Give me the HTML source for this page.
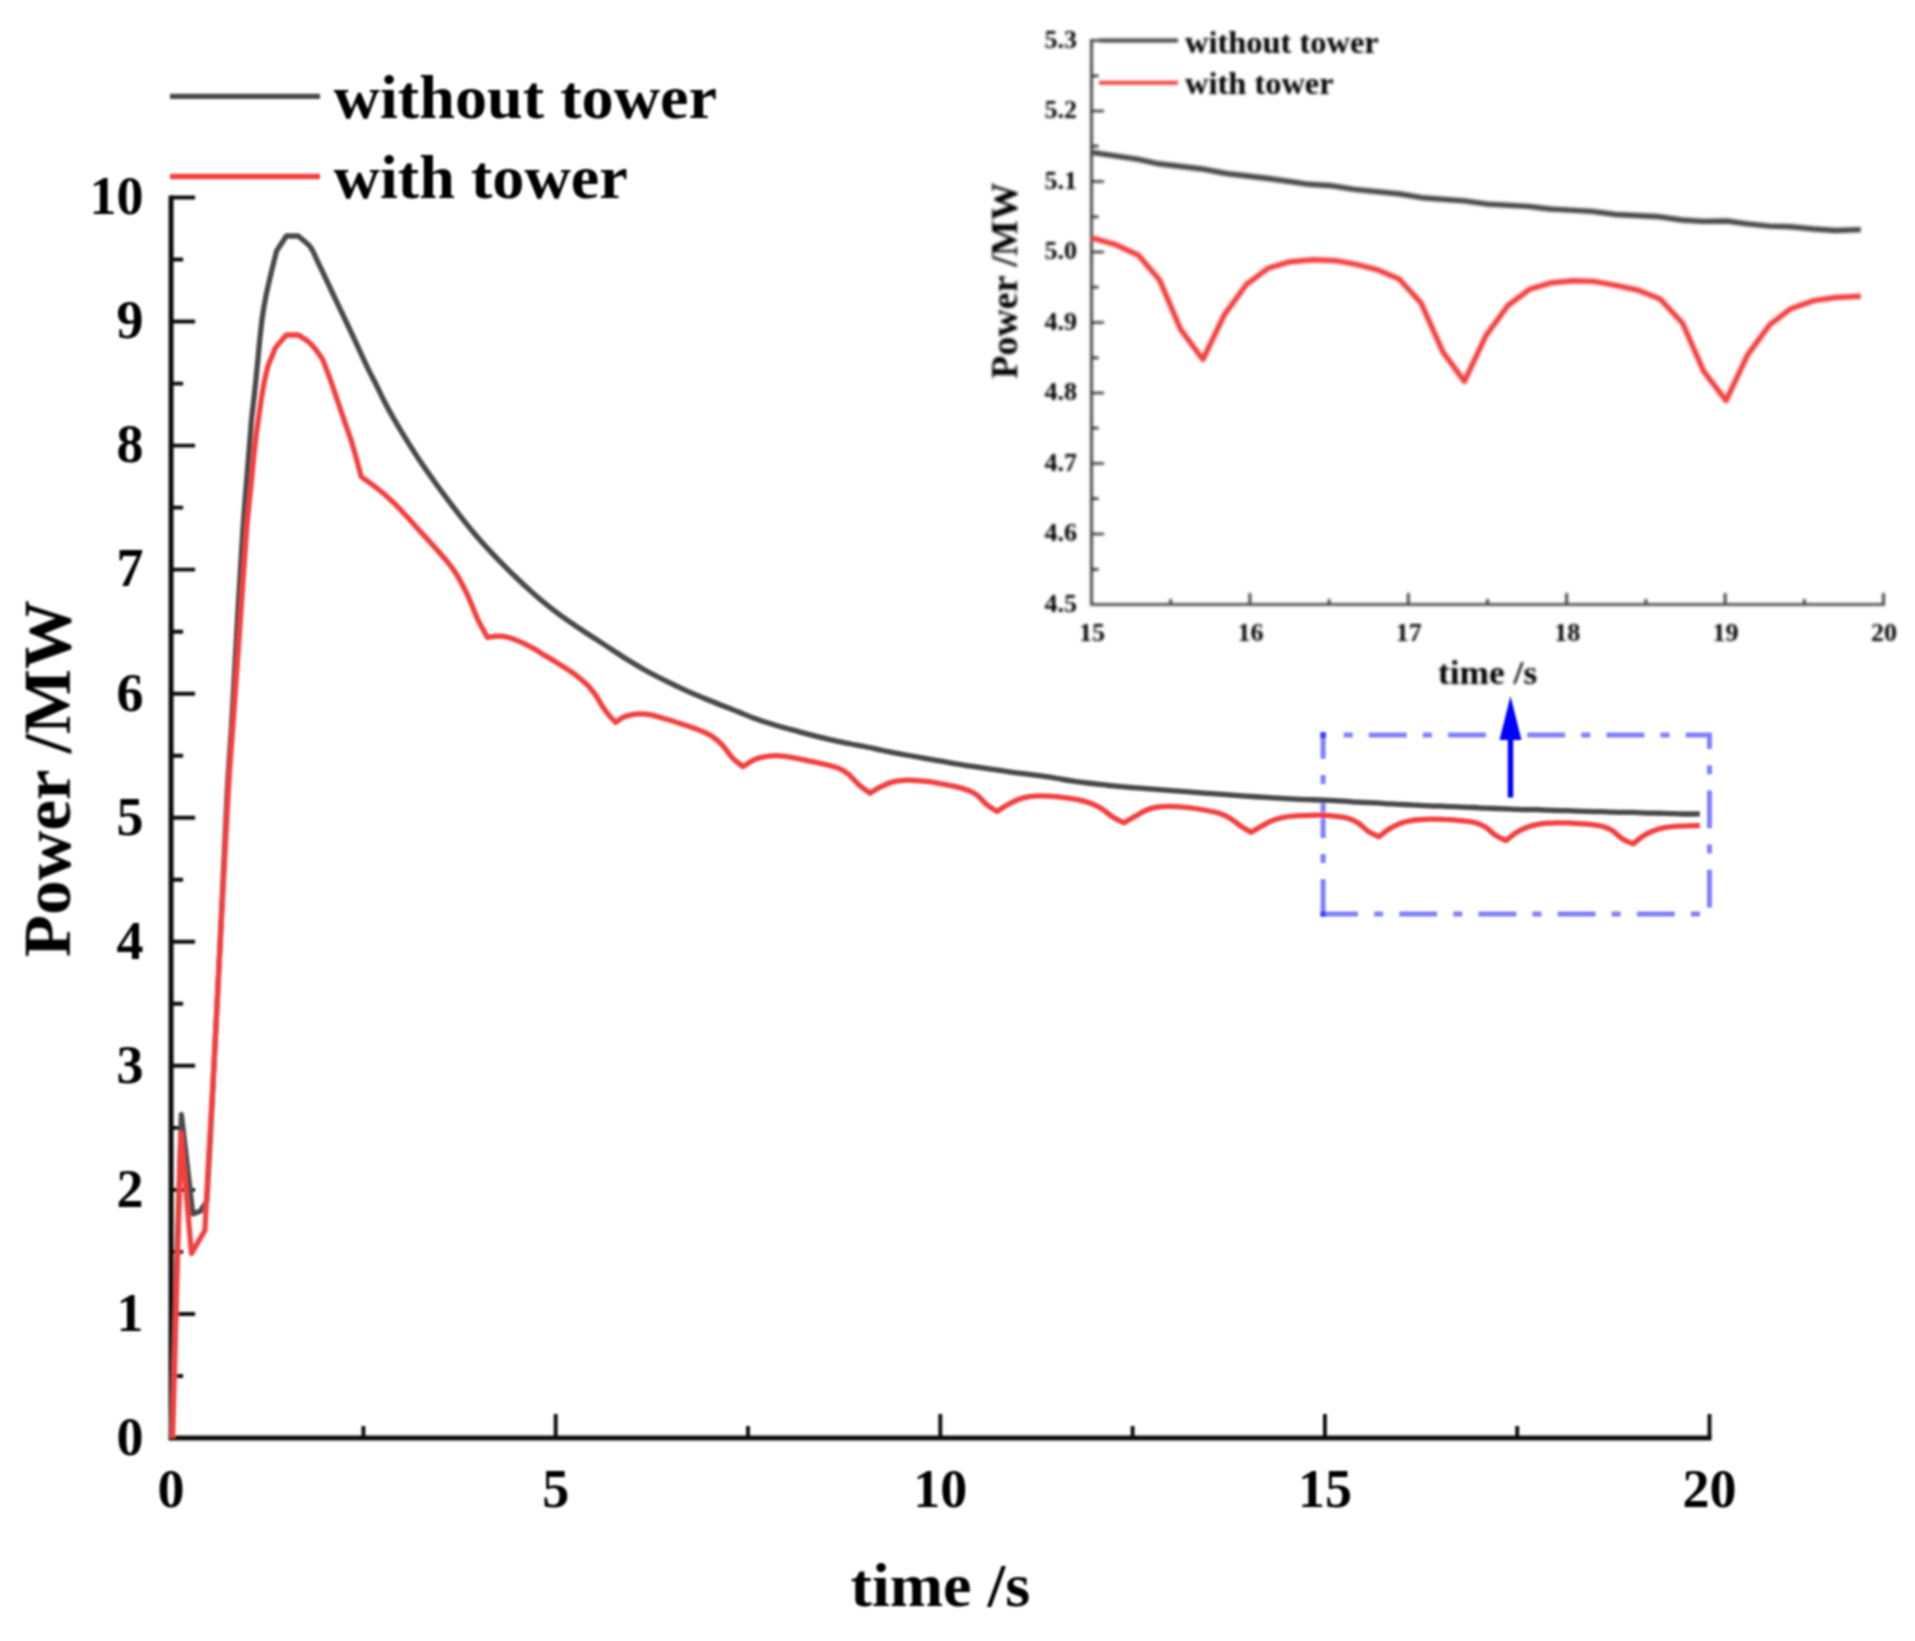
<!DOCTYPE html>
<html lang="en"><head><meta charset="utf-8"><title>Power vs time</title>
<style>
html,body{margin:0;padding:0;background:#fff;}
body{width:1915px;height:1641px;overflow:hidden;}
svg{display:block;}
text{font-family:"Liberation Serif",serif;font-weight:bold;fill:#000;}
.c{fill:none;stroke-linejoin:round;stroke-linecap:butt;}
</style></head><body>
<svg width="1915" height="1641" viewBox="0 0 1915 1641">
<defs><filter id="b" x="-2%" y="-2%" width="104%" height="104%"><feGaussianBlur stdDeviation="1.25"/></filter><filter id="ib" x="-2%" y="-2%" width="104%" height="104%"><feGaussianBlur stdDeviation="1.6"/></filter></defs>
<rect width="1915" height="1641" fill="#fff"/>
<g filter="url(#b)">
<g stroke="#111" stroke-width="5" fill="none" stroke-linecap="butt">
<path d="M171.1 195.6 V1438.0 H1711.5"/>
<path stroke-width="3.9" d="M171.1 1376.0 h12.0 M171.1 1314.0 h24.0 M171.1 1251.9 h12.0 M171.1 1189.9 h24.0 M171.1 1127.9 h12.0 M171.1 1065.8 h24.0 M171.1 1003.8 h12.0 M171.1 941.8 h24.0 M171.1 879.8 h12.0 M171.1 817.8 h24.0 M171.1 755.7 h12.0 M171.1 693.7 h24.0 M171.1 631.7 h12.0 M171.1 569.6 h24.0 M171.1 507.6 h12.0 M171.1 445.6 h24.0 M171.1 383.6 h12.0 M171.1 321.5 h24.0 M171.1 259.5 h12.0 M171.1 197.5 h24.0 M363.4 1438.0 v-12.0 M555.7 1438.0 v-24.0 M748.0 1438.0 v-12.0 M940.3 1438.0 v-24.0 M1132.6 1438.0 v-12.0 M1324.9 1438.0 v-24.0 M1517.2 1438.0 v-12.0 M1709.5 1438.0 v-24.0"/>
</g>
<g font-size="54" text-anchor="end">
<text x="143.5" y="1454.8">0</text>
<text x="143.5" y="1330.7">1</text>
<text x="143.5" y="1206.7">2</text>
<text x="143.5" y="1082.6">3</text>
<text x="143.5" y="958.6">4</text>
<text x="143.5" y="834.5">5</text>
<text x="143.5" y="710.5">6</text>
<text x="143.5" y="586.4">7</text>
<text x="143.5" y="462.4">8</text>
<text x="143.5" y="338.3">9</text>
<text x="143.5" y="214.3">10</text>
</g>
<g font-size="54" text-anchor="middle">
<text x="171.1" y="1506.6">0</text>
<text x="555.7" y="1506.6">5</text>
<text x="940.3" y="1506.6">10</text>
<text x="1324.9" y="1506.6">15</text>
<text x="1709.5" y="1506.6">20</text>
</g>
<text transform="translate(940.4 1606.3) scale(1.05 1)" font-size="61" text-anchor="middle">time /s</text>
<text transform="translate(69.8 778.6) rotate(-90) scale(1.03 1)" font-size="67" text-anchor="middle">Power /MW</text>
<path d="M170 96.3 H320" fill="none" stroke="#484848" stroke-width="5.3"/>
<path d="M170 176.5 H320" fill="none" stroke="#f23f3f" stroke-width="5.3"/>
<text transform="translate(333.6 117.8) scale(1.053 1)" font-size="61" text-anchor="start">without tower</text>
<text transform="translate(333.6 197.8) scale(1.053 1)" font-size="61" text-anchor="start">with tower</text>
<g fill="none" stroke="rgba(0,0,255,0.5)" stroke-width="5" stroke-dasharray="37.8 16.2 9 16.2">
<path d="M1323.1 917.1 V732.1"/>
<path d="M1320.1 914.1 H1709.5 V735.1 H1332.1" stroke-linejoin="miter"/>
</g>
<rect x="1320.1" y="732.1" width="6" height="6" fill="rgba(0,0,255,0.5)"/>
<path class="c" d="M171.3 1437.9 C174.7 1330.2 178.0 1222.4 181.4 1114.7 C185.2 1147.8 189.0 1180.8 192.8 1213.9 C195.3 1213.0 197.7 1212.1 200.2 1211.2 C202.4 1207.9 204.6 1204.7 206.8 1201.4 C207.7 1185.7 208.3 1174.6 209.4 1154.4 C210.5 1134.2 211.4 1117.5 213.3 1080.4 C215.2 1043.3 218.3 979.8 220.6 931.9 C222.9 884.0 225.3 828.2 227.2 793.0 C229.1 757.8 230.2 749.0 231.9 720.4 C233.6 691.8 235.6 653.1 237.4 621.4 C239.2 589.7 241.2 556.0 242.9 530.1 C244.6 504.2 246.4 484.4 247.8 466.1 C249.2 447.8 250.4 432.2 251.5 420.4 C252.6 408.6 253.2 405.4 254.3 395.4 C255.4 385.4 256.9 369.8 257.8 360.6 C258.7 351.4 258.9 347.8 259.7 340.4 C260.5 333.0 261.4 323.9 262.5 316.2 C263.6 308.5 264.8 301.6 266.3 294.3 C267.8 287.0 269.6 279.5 271.3 272.3 C273.0 265.1 274.8 258.0 276.6 250.9 C279.9 245.9 283.1 241.0 286.4 236.0 C290.3 236.0 294.3 236.0 298.2 236.0 C302.2 239.6 307.1 242.8 310.3 246.9 C313.5 251.0 314.7 255.5 317.1 260.4 C319.5 265.3 322.1 270.8 324.6 276.2 C327.1 281.6 329.9 287.4 332.3 292.5 C334.7 297.6 336.7 301.8 339.1 306.8 C341.5 311.8 344.0 317.2 346.5 322.5 C349.0 327.8 351.5 332.9 354.0 338.3 C356.5 343.7 359.0 349.3 361.6 354.9 C364.2 360.5 367.0 366.6 369.6 371.9 C372.2 377.2 374.8 381.9 377.2 386.7 C379.6 391.5 381.3 395.4 384.0 400.7 C386.7 406.0 389.8 411.8 393.6 418.4 C397.4 425.0 402.3 433.2 406.8 440.4 C411.3 447.6 415.9 454.9 420.4 461.6 C424.9 468.3 429.3 474.5 433.8 480.8 C438.3 487.1 442.8 493.2 447.3 499.2 C451.8 505.2 456.2 510.9 460.7 516.6 C465.2 522.3 469.6 527.9 474.1 533.2 C478.6 538.5 483.0 543.5 487.5 548.4 C492.0 553.3 496.4 557.9 500.9 562.4 C505.4 566.9 509.8 571.4 514.3 575.7 C518.8 580.0 523.4 584.4 527.7 588.3 C532.0 592.2 534.5 594.6 540.0 599.2 C545.5 603.8 553.9 610.5 560.9 615.6 C567.9 620.7 574.8 625.3 581.8 630.0 C588.8 634.7 595.8 639.1 602.7 643.6 C609.7 648.1 616.5 652.8 623.5 657.2 C630.5 661.5 637.4 665.8 644.4 669.7 C651.4 673.6 658.3 677.2 665.3 680.7 C672.3 684.2 679.2 687.5 686.2 690.6 C693.2 693.7 700.1 696.6 707.1 699.5 C714.1 702.4 722.5 705.6 728.0 707.8 C733.5 710.0 735.4 710.7 739.9 712.5 C744.4 714.3 749.4 716.5 754.9 718.5 C760.4 720.5 767.0 722.6 773.1 724.5 C779.2 726.4 785.3 727.9 791.4 729.6 C797.5 731.3 803.6 733.0 809.7 734.6 C815.8 736.2 821.9 737.7 828.0 739.1 C834.1 740.5 840.2 742.0 846.3 743.2 C852.4 744.4 858.5 745.3 864.6 746.5 C870.7 747.7 876.7 749.2 882.8 750.5 C888.9 751.8 895.0 753.0 901.1 754.1 C907.2 755.2 913.3 756.3 919.4 757.4 C925.5 758.5 931.6 759.6 937.7 760.7 C943.8 761.8 949.9 762.8 956.0 763.8 C962.1 764.8 968.2 765.7 974.3 766.6 C980.4 767.5 986.5 768.4 992.6 769.3 C998.7 770.2 1004.7 771.2 1010.8 772.1 C1016.9 773.0 1022.6 773.5 1029.1 774.4 C1035.6 775.2 1042.1 776.0 1050.0 777.2 C1057.9 778.4 1066.1 780.2 1076.6 781.6 C1087.1 783.0 1100.9 784.6 1113.1 785.8 C1125.3 787.0 1137.5 787.9 1149.7 788.9 C1161.9 789.9 1174.0 790.8 1186.2 791.7 C1198.4 792.6 1210.6 793.5 1222.8 794.4 C1235.0 795.3 1247.1 796.2 1259.3 797.0 C1271.5 797.8 1284.9 798.7 1295.9 799.2 C1306.9 799.7 1316.5 799.8 1325.1 800.2 C1333.7 800.6 1342.3 801.1 1347.7 801.4 C1353.1 801.8 1352.2 801.9 1357.5 802.2 C1362.8 802.5 1374.2 802.9 1379.7 803.2 C1385.2 803.5 1385.2 803.7 1390.4 803.9 C1395.5 804.2 1404.1 804.5 1410.8 804.8 C1417.4 805.1 1425.1 805.6 1430.3 805.8 C1435.5 806.1 1438.1 806.0 1441.8 806.1 C1445.5 806.3 1447.0 806.5 1452.5 806.7 C1458.0 807.0 1469.2 807.3 1474.7 807.5 C1480.2 807.8 1480.2 808.0 1485.3 808.2 C1490.5 808.4 1500.5 808.6 1505.8 808.8 C1511.1 808.9 1512.2 809.2 1517.3 809.3 C1522.5 809.5 1531.8 809.6 1536.9 809.7 C1541.9 809.9 1542.3 810.0 1547.5 810.2 C1552.7 810.3 1562.6 810.4 1567.9 810.6 C1573.3 810.8 1574.0 811.0 1579.5 811.2 C1585.0 811.3 1595.5 811.4 1600.8 811.6 C1606.2 811.7 1608.0 812.0 1611.5 812.1 C1615.1 812.3 1618.5 812.3 1622.1 812.4 C1625.8 812.4 1629.7 812.2 1633.3 812.3 C1636.8 812.4 1640.0 812.7 1643.5 812.8 C1647.0 813.0 1650.7 813.1 1654.2 813.2 C1657.7 813.3 1660.9 813.2 1664.5 813.3 C1668.0 813.4 1671.9 813.6 1675.5 813.7 C1679.1 813.8 1682.1 814.0 1686.1 814.0 C1690.2 814.0 1695.3 813.9 1699.8 813.8" stroke="#484848" stroke-width="5.3"/>
<path class="c" d="M172.6 1437.9 C175.4 1336.2 178.1 1234.5 180.9 1132.8 C184.4 1173.0 188.0 1213.2 191.5 1253.4 C196.0 1245.7 200.4 1238.1 204.9 1230.4 C206.2 1205.1 207.5 1179.4 208.9 1154.4 C210.3 1129.4 211.1 1117.5 213.1 1080.4 C215.1 1043.3 218.3 979.8 220.8 931.9 C223.3 884.0 226.0 829.9 228.2 793.0 C230.4 756.1 232.0 739.0 234.0 710.4 C236.0 681.8 238.1 651.4 240.2 621.4 C242.3 591.4 244.7 553.6 246.6 530.1 C248.5 506.6 250.1 494.6 251.5 480.4 C252.9 466.2 253.8 455.3 255.0 444.7 C256.2 434.1 257.5 426.1 258.8 416.7 C260.1 407.3 261.6 396.5 263.0 388.6 C264.4 380.6 266.1 373.5 267.2 369.0 C268.3 364.5 268.4 365.0 269.8 361.4 C271.2 357.8 273.6 352.2 275.5 347.6 C279.1 343.4 282.7 339.2 286.3 335.0 C290.3 335.0 294.3 335.0 298.3 335.0 C302.3 337.8 306.4 339.5 310.3 343.3 C314.2 347.1 318.8 353.4 321.5 357.7 C324.2 362.0 324.8 365.1 326.3 368.9 C327.8 372.7 328.8 375.1 330.6 380.4 C332.5 385.6 335.1 393.7 337.4 400.4 C339.7 407.1 341.9 413.7 344.2 420.4 C346.5 427.1 349.1 434.1 351.1 440.4 C353.1 446.7 354.6 452.3 356.3 458.4 C358.0 464.4 359.6 470.6 361.2 476.7 C367.5 481.4 374.8 486.4 380.2 490.7 C385.6 495.0 389.1 498.4 393.6 502.7 C398.1 507.0 402.5 512.0 407.0 516.8 C411.5 521.6 415.9 526.7 420.4 531.6 C424.9 536.5 429.3 541.3 433.8 546.3 C438.3 551.3 443.5 557.0 447.3 561.7 C451.1 566.4 453.7 569.9 456.6 574.5 C459.5 579.1 462.2 584.3 464.7 589.2 C467.2 594.1 469.2 598.9 471.4 604.0 C473.6 609.1 475.4 614.5 478.1 620.1 C480.8 625.7 484.4 631.7 487.5 637.5 C491.1 637.0 494.6 636.1 498.2 636.1 C501.8 636.1 505.1 636.5 508.9 637.5 C512.7 638.5 516.8 640.3 521.0 642.2 C525.2 644.1 531.2 647.2 534.4 648.9 C537.6 650.6 536.5 650.3 540.0 652.5 C543.5 654.7 550.5 658.7 555.7 661.9 C560.9 665.1 566.9 668.8 571.3 671.8 C575.6 674.8 578.7 677.4 581.8 680.1 C584.9 682.8 587.7 685.3 590.1 688.0 C592.5 690.7 594.3 693.2 596.4 696.3 C598.5 699.4 600.6 703.7 602.7 706.8 C604.8 709.9 606.7 712.5 608.9 715.1 C611.1 717.7 613.4 720.0 615.7 722.4 C618.3 720.7 620.8 718.5 623.5 717.2 C626.2 715.9 629.1 715.2 631.9 714.6 C634.7 714.0 637.3 713.8 640.3 713.8 C643.3 713.8 645.5 713.8 649.7 714.6 C653.9 715.4 659.2 717.0 665.3 718.8 C671.4 720.6 680.1 723.5 686.2 725.6 C692.3 727.7 697.5 729.5 701.9 731.3 C706.2 733.1 709.0 734.3 712.3 736.5 C715.6 738.7 718.5 741.0 721.9 744.6 C725.3 748.2 729.4 754.6 732.9 758.3 C736.4 762.0 739.6 763.8 743.0 766.6 C747.0 764.2 751.1 761.0 754.9 759.3 C758.7 757.6 762.1 757.1 765.8 756.5 C769.4 755.9 772.5 755.5 776.8 755.6 C781.1 755.8 785.9 756.5 791.4 757.4 C796.9 758.3 803.6 759.8 809.7 761.1 C815.8 762.4 823.1 763.9 828.0 765.1 C832.9 766.3 835.6 766.9 839.0 768.4 C842.4 769.9 844.8 771.1 848.1 773.9 C851.5 776.6 855.5 781.7 859.1 784.9 C862.8 788.1 866.4 790.4 870.0 793.1 C873.7 791.0 877.3 788.5 881.0 786.7 C884.7 784.9 888.3 783.2 892.0 782.1 C895.7 781.0 899.4 780.6 903.0 780.3 C906.6 780.0 909.6 780.1 913.9 780.3 C918.2 780.5 923.1 780.9 928.6 781.7 C934.1 782.5 941.6 783.9 946.8 784.9 C952.0 785.9 955.6 786.5 959.6 787.6 C963.6 788.7 967.6 789.9 970.6 791.3 C973.6 792.7 975.1 793.5 977.9 795.8 C980.6 798.1 983.9 802.4 987.1 805.0 C990.3 807.6 993.8 809.3 997.1 811.4 C1000.5 809.3 1003.7 807.0 1007.2 805.0 C1010.7 803.0 1014.6 800.9 1018.2 799.5 C1021.9 798.1 1025.4 797.3 1029.1 796.7 C1032.8 796.1 1035.2 795.8 1040.1 795.8 C1045.0 795.8 1052.2 796.2 1058.3 796.8 C1064.4 797.4 1071.1 798.3 1076.6 799.4 C1082.1 800.5 1087.0 802.0 1091.2 803.6 C1095.5 805.2 1098.4 806.7 1102.1 809.0 C1105.8 811.3 1109.4 815.0 1113.1 817.3 C1116.8 819.6 1120.4 821.0 1124.1 822.8 C1127.7 820.7 1131.3 818.5 1135.0 816.4 C1138.7 814.3 1142.3 811.8 1146.0 810.3 C1149.7 808.8 1153.0 807.9 1157.0 807.2 C1161.0 806.5 1164.9 806.3 1169.8 806.3 C1174.7 806.3 1180.4 806.8 1186.2 807.4 C1192.0 808.0 1199.0 809.0 1204.5 810.0 C1210.0 811.0 1214.8 811.9 1219.1 813.3 C1223.4 814.7 1226.4 816.0 1230.1 818.2 C1233.8 820.4 1237.6 824.0 1241.1 826.4 C1244.6 828.8 1247.8 830.3 1251.1 832.3 C1254.5 830.3 1257.7 828.3 1261.2 826.4 C1264.7 824.5 1268.4 822.1 1272.1 820.6 C1275.8 819.1 1279.1 818.1 1283.1 817.3 C1287.1 816.5 1291.4 816.1 1295.9 815.8 C1300.4 815.5 1305.1 815.4 1310.0 815.3 C1314.9 815.2 1320.7 815.1 1325.1 815.3 C1329.5 815.5 1332.4 815.9 1336.2 816.4 C1339.9 816.9 1344.1 817.3 1347.7 818.3 C1351.3 819.4 1354.5 820.5 1357.9 822.7 C1361.3 824.8 1364.7 829.0 1368.2 831.4 C1371.7 833.7 1375.4 834.9 1379.0 836.7 C1382.5 834.0 1385.9 831.0 1389.4 828.8 C1393.0 826.6 1396.6 824.8 1400.1 823.5 C1403.7 822.1 1407.2 821.3 1410.8 820.6 C1414.3 819.9 1417.7 819.7 1421.4 819.5 C1425.1 819.2 1429.2 819.2 1432.9 819.1 C1436.6 819.1 1440.2 819.1 1443.6 819.3 C1447.0 819.4 1450.0 819.7 1453.4 819.9 C1456.8 820.2 1460.5 820.5 1464.0 820.9 C1467.5 821.3 1470.8 821.5 1474.3 822.5 C1477.8 823.5 1481.4 824.5 1484.9 826.7 C1488.5 828.8 1492.1 833.1 1495.6 835.4 C1499.1 837.7 1502.5 838.8 1506.0 840.5 C1509.5 837.8 1512.9 834.7 1516.4 832.5 C1519.9 830.3 1523.6 828.5 1527.1 827.2 C1530.7 825.8 1534.2 824.9 1537.7 824.3 C1541.3 823.6 1544.9 823.4 1548.4 823.2 C1552.0 822.9 1555.7 822.9 1559.1 822.8 C1562.5 822.8 1565.4 822.8 1568.8 822.9 C1572.2 823.1 1576.0 823.4 1579.5 823.6 C1583.1 823.9 1586.5 824.0 1590.1 824.4 C1593.7 824.8 1597.4 825.1 1601.1 826.0 C1604.7 827.0 1608.4 828.1 1611.9 830.2 C1615.4 832.4 1618.6 836.4 1622.1 838.7 C1625.7 841.0 1629.4 842.2 1633.0 843.9 C1636.5 841.2 1640.0 838.1 1643.5 835.8 C1647.0 833.6 1650.7 831.9 1654.2 830.6 C1657.7 829.2 1660.9 828.4 1664.5 827.7 C1668.0 827.0 1671.9 826.6 1675.5 826.3 C1679.1 826.0 1682.1 825.9 1686.1 825.8 C1690.2 825.6 1695.3 825.6 1699.8 825.5" stroke="#f23f3f" stroke-width="5.3"/>
<path d="M1510.5 797.5 V738" stroke="#0000ff" stroke-width="5.5" fill="none"/>
<path d="M1510.5 696 L1521.5 740 H1499.5 Z" fill="#0000ff"/>
</g>
<g filter="url(#ib)">
<g stroke="#383838" stroke-width="2.7" fill="none">
<path d="M1091.5 39.1 V604.5 H1884.8"/>
<path d="M1091.5 569.3 h7.0 M1091.5 534.0 h12.5 M1091.5 498.7 h7.0 M1091.5 463.5 h12.5 M1091.5 428.2 h7.0 M1091.5 393.0 h12.5 M1091.5 357.8 h7.0 M1091.5 322.5 h12.5 M1091.5 287.2 h7.0 M1091.5 252.0 h12.5 M1091.5 216.8 h7.0 M1091.5 181.5 h12.5 M1091.5 146.2 h7.0 M1091.5 111.0 h12.5 M1091.5 75.8 h7.0 M1091.5 40.5 h12.5 M1170.7 604.5 v-5.5 M1249.9 604.5 v-11.5 M1329.1 604.5 v-5.5 M1408.3 604.5 v-11.5 M1487.5 604.5 v-5.5 M1566.7 604.5 v-11.5 M1645.9 604.5 v-5.5 M1725.1 604.5 v-11.5 M1804.3 604.5 v-5.5 M1883.5 604.5 v-11.5"/>
</g>
<g font-size="26" text-anchor="end">
<text x="1077.0" y="611.8">4.5</text>
<text x="1077.0" y="541.3">4.6</text>
<text x="1077.0" y="470.8">4.7</text>
<text x="1077.0" y="400.3">4.8</text>
<text x="1077.0" y="329.8">4.9</text>
<text x="1077.0" y="259.3">5.0</text>
<text x="1077.0" y="188.8">5.1</text>
<text x="1077.0" y="118.3">5.2</text>
<text x="1077.0" y="47.8">5.3</text>
</g>
<g font-size="26" text-anchor="middle">
<text x="1092.0" y="640.5">15</text>
<text x="1250.4" y="640.5">16</text>
<text x="1408.8" y="640.5">17</text>
<text x="1567.2" y="640.5">18</text>
<text x="1725.6" y="640.5">19</text>
<text x="1884.0" y="640.5">20</text>
</g>
<text transform="translate(1487.6 684.0) scale(1.04 1)" font-size="34" text-anchor="middle">time /s</text>
<text transform="translate(1017.1 280.6) rotate(-90)" font-size="38" text-anchor="middle">Power /MW</text>
<path d="M1099 40.6 H1178" fill="none" stroke="#484848" stroke-width="4"/>
<path d="M1099 82.7 H1178" fill="none" stroke="#f23f3f" stroke-width="4"/>
<text transform="translate(1185.0 52.6) scale(1.04 1)" font-size="31.2" text-anchor="start">without tower</text>
<text transform="translate(1185.0 94.0) scale(1.04 1)" font-size="31.2" text-anchor="start">with tower</text>
<polyline class="c" points="1091.9,152.3 1138.5,159.3 1158.6,163.8 1204.3,169.3 1226.3,173.5 1268.3,178.5 1308.6,184.3 1332.3,185.8 1354.3,189.4 1400.0,194.0 1421.9,197.7 1464.0,200.9 1487.8,204.1 1528.0,206.4 1549.9,209.0 1592.0,211.4 1615.8,214.5 1659.7,216.8 1681.7,220.0 1703.6,221.4 1726.5,221.0 1747.6,223.9 1769.6,226.1 1790.8,226.8 1813.5,229.0 1835.4,230.5 1860.8,229.6" stroke="#484848" stroke-width="5.4"/>
<polyline class="c" points="1091.9,237.9 1114.7,244.3 1138.5,255.3 1159.5,279.9 1180.6,329.3 1202.9,359.5 1224.4,314.7 1246.4,284.5 1268.3,268.1 1290.3,261.7 1314.0,259.8 1336.0,260.7 1356.1,264.4 1378.0,269.9 1399.1,279.0 1421.0,302.8 1443.0,352.2 1464.4,381.4 1485.9,335.7 1507.9,305.5 1529.8,289.1 1551.8,282.7 1573.7,280.8 1593.8,281.4 1615.8,285.4 1637.7,290.0 1660.2,299.1 1682.5,323.0 1703.6,371.2 1726.0,400.6 1747.6,354.8 1769.6,324.8 1790.8,308.7 1813.5,300.7 1835.4,297.5 1860.8,296.2" stroke="#f23f3f" stroke-width="5.4"/>
</g>
</svg>
</body></html>
